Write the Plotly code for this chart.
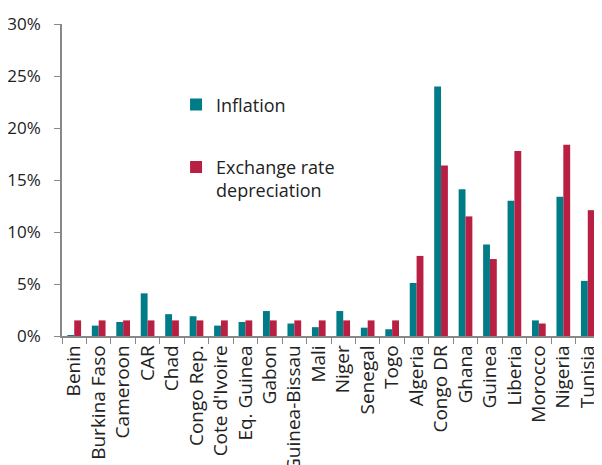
import plotly.graph_objects as go

countries = ["Benin", "Burkina Faso", "Cameroon", "CAR", "Chad", "Congo Rep.",
             "Cote d'Ivoire", "Eq. Guinea", "Gabon", "Guinea-Bissau", "Mali", "Niger",
             "Senegal", "Togo", "Algeria", "Congo DR", "Ghana", "Guinea", "Liberia",
             "Morocco", "Nigeria", "Tunisia"]
inflation = [0.05, 1.0, 1.35, 4.1, 2.1, 1.9, 1.0, 1.35, 2.4, 1.2, 0.85, 2.4,
             0.8, 0.65, 5.1, 24.0, 14.1, 8.8, 13.0, 1.5, 13.4, 5.3]
exchange = [1.5, 1.5, 1.5, 1.5, 1.5, 1.5, 1.5, 1.5, 1.5, 1.5, 1.5, 1.5,
            1.5, 1.5, 7.7, 16.4, 11.5, 7.4, 17.8, 1.2, 18.4, 12.1]
y_ticks = [0, 5, 10, 15, 20, 25, 30]
y_tick_labels = ["0%", "5%", "10%", "15%", "20%", "25%", "30%"]

teal = "#007c89"
red = "#b81f43"
font = "'Open Sans', Lato, sans-serif"

fig = go.Figure()
fig.add_trace(go.Bar(x=countries, y=inflation, name="Inflation",
                     marker=dict(color=teal, line=dict(width=0)), legendgroup="a"))
fig.add_trace(go.Bar(x=countries, y=exchange, name="Exchange rate<br>depreciation",
                     marker=dict(color=red, line=dict(width=0)), legendgroup="b"))

fig.update_layout(
    width=594, height=457,
    margin=dict(l=54, r=2, t=16, b=129, autoexpand=False),
    paper_bgcolor="white", plot_bgcolor="white",
    barmode="group", bargap=0.44, bargroupgap=0,
    font=dict(family=font, size=18, color="#222"),
    showlegend=True,
    legend=dict(x=0.212, y=0.80, xanchor="left", yanchor="top",
                bgcolor="rgba(0,0,0,0)", tracegroupgap=36, valign="top",
                font=dict(size=18, color="#222"), itemwidth=30),
    xaxis=dict(showline=True, linecolor="#888", linewidth=1.5, automargin=False,
               ticks="outside", tickson="boundaries", ticklen=6, tickcolor="#888",
               tickangle=-90, showgrid=False, tickfont=dict(size=19)),
    yaxis=dict(range=[0, 30], tickvals=y_ticks, ticktext=y_tick_labels,
               showline=True, linecolor="#888", linewidth=1.5, automargin=False,
               ticks="outside", ticklen=6, tickcolor="#888",
               ticklabelstandoff=10,
               showgrid=False, zeroline=False, tickfont=dict(size=17)),
)

fig.write_html("out.html")
